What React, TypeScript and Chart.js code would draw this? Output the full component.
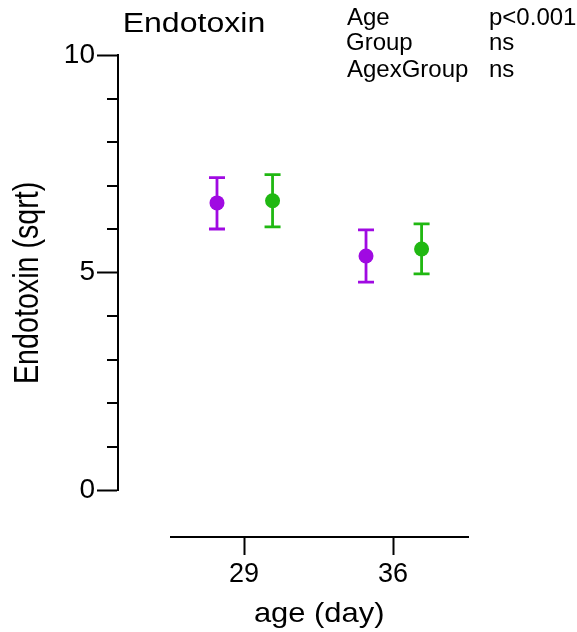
import React, { useEffect, useRef } from 'react';
import { Chart, registerables } from 'chart.js';

Chart.register(...registerables);

// ---- data ----
const ages = [29, 36];
const purpleMeans = [6.6, 5.38];
const purpleLower = [6.0, 4.78];
const purpleUpper = [7.18, 5.98];
const greenMeans = [6.65, 5.54];
const greenLower = [6.05, 4.97];
const greenUpper = [7.25, 6.12];
const yMajorTicks = [0, 5, 10];
const yMinorTicks = [1, 2, 3, 4, 6, 7, 8, 9];
const xTicks = [29, 36];
const statLabels = ['Age', 'Group', 'AgexGroup'];
const statValues = ['p<0.001', 'ns', 'ns'];
const chartTitle = 'Endotoxin';
const yTitle = 'Endotoxin (sqrt)';
const xTitle = 'age (day)';

// ---- style ----
const FONT = '"Liberation Sans", Arial, Helvetica, sans-serif';
const PURPLE = '#a00ae2';
const GREEN = '#20b812';
const groupShift = [-1.27, 1.34]; // dodge in days

function drawInk(
  ctx: CanvasRenderingContext2D,
  text: string,
  size: number,
  x: number,
  baseline: number,
  anchor: 'left' | 'center',
  width?: number
) {
  ctx.save();
  ctx.font = `${size}px ${FONT}`;
  ctx.textAlign = 'left';
  ctx.textBaseline = 'alphabetic';
  ctx.fillStyle = '#000';
  const m = ctx.measureText(text);
  const inkL = -m.actualBoundingBoxLeft;
  const inkR = m.actualBoundingBoxRight;
  const sx = width ? width / (inkR - inkL) : 1;
  ctx.translate(x, baseline);
  ctx.scale(sx, 1);
  const dx = anchor === 'left' ? -inkL : -(inkL + inkR) / 2;
  ctx.fillText(text, dx, 0);
  ctx.restore();
}

const errorBarPlugin = {
  id: 'errorBars',
  beforeDatasetsDraw(chart: any) {
    const { ctx, scales } = chart;
    const xs = scales.x;
    const ys = scales.y;
    chart.data.datasets.forEach((ds: any) => {
      ds.data.forEach((pt: any, i: number) => {
        const px = xs.getPixelForValue(pt.x);
        const top = ys.getPixelForValue(ds.errHigh[i]);
        const bot = ys.getPixelForValue(ds.errLow[i]);
        ctx.save();
        ctx.strokeStyle = ds.backgroundColor;
        ctx.lineWidth = 2.8;
        ctx.beginPath();
        ctx.moveTo(px, top);
        ctx.lineTo(px, bot);
        ctx.moveTo(px - 8, top);
        ctx.lineTo(px + 8, top);
        ctx.moveTo(px - 8, bot);
        ctx.lineTo(px + 8, bot);
        ctx.stroke();
        ctx.restore();
      });
    });
  },
};

const decorPlugin = {
  id: 'decor',
  afterDraw(chart: any) {
    const { ctx, scales } = chart;
    const ys = scales.y;
    // minor ticks
    ctx.save();
    ctx.strokeStyle = '#000';
    ctx.lineWidth = 2;
    const bx = Math.round(ys.right);
    yMinorTicks.forEach((v) => {
      const py = Math.round(ys.getPixelForValue(v));
      ctx.beginPath();
      ctx.moveTo(bx - 11, py);
      ctx.lineTo(bx, py);
      ctx.stroke();
    });
    ctx.restore();

    // title
    drawInk(ctx, chartTitle, 27, 125, 32, 'left', 139);
    // stats
    const baselines = [25, 50, 77];
    statLabels.forEach((s, i) => {
      drawInk(ctx, s, 24, 347, baselines[i], 'left');
      drawInk(ctx, statValues[i], 24, 490, baselines[i], 'left');
    });
    // x title
    drawInk(ctx, xTitle, 28, 319, 622, 'center', 128);
    // y title (rotated)
    ctx.save();
    ctx.font = `28px ${FONT}`;
    ctx.textAlign = 'left';
    ctx.textBaseline = 'alphabetic';
    ctx.fillStyle = '#000';
    const m = ctx.measureText(yTitle);
    const inkL = -m.actualBoundingBoxLeft;
    const inkR = m.actualBoundingBoxRight;
    const asc = m.actualBoundingBoxAscent;
    const desc = m.actualBoundingBoxDescent;
    const sx = 199 / (inkR - inkL);
    const sy = 32 / (asc + desc);
    ctx.translate(29, 282.5);
    ctx.rotate(-Math.PI / 2);
    ctx.scale(sx, sy);
    ctx.fillText(yTitle, -(inkL + inkR) / 2, -(desc - asc) / 2);
    ctx.restore();
  },
};

export default function App() {
  const ref = useRef<HTMLCanvasElement | null>(null);

  useEffect(() => {
    document.body.style.margin = '0';
    const canvas = ref.current;
    if (!canvas) return;

    const mk = (means: number[], lo: number[], hi: number[], g: number, color: string, label: string) => ({
      type: 'scatter' as const,
      label,
      data: ages.map((a, i) => ({ x: a + groupShift[g], y: means[i] })),
      errLow: lo,
      errHigh: hi,
      backgroundColor: color,
      borderColor: color,
      pointRadius: 7.5,
      pointBorderWidth: 0,
      showLine: false,
      xAxisID: 'x',
      yAxisID: 'y',
    });

    const chart = new Chart(canvas, {
      type: 'scatter',
      data: {
        datasets: [
          mk(purpleMeans, purpleLower, purpleUpper, 0, PURPLE, 'Group 1'),
          mk(greenMeans, greenLower, greenUpper, 1, GREEN, 'Group 2'),
        ] as any,
      },
      options: {
        responsive: false,
        animation: false,
        events: [],
        devicePixelRatio: 1,
        layout: { padding: { left: 0, right: 109, top: 55, bottom: 0 } },
        plugins: {
          legend: { display: false },
          tooltip: { enabled: false },
          title: { display: false },
        },
        scales: {
          x: {
            type: 'linear',
            axis: 'x',
            position: 'bottom',
            weight: 1,
            min: 25.57,
            max: 39.52,
            afterBuildTicks: (s: any) => {
              s.ticks = xTicks.map((v) => ({ value: v }));
            },
            afterFit: (s: any) => {
              s.height = 95;
            },
            grid: {
              display: true,
              drawOnChartArea: false,
              drawTicks: true,
              tickLength: 18,
              tickWidth: 2,
              tickColor: '#000',
              color: '#000',
            },
            border: { display: true, color: '#000', width: 2 },
            ticks: {
              color: '#000',
              font: { family: FONT, size: 27 },
              padding: 3,
              autoSkip: false,
              maxRotation: 0,
              callback: (v: any) => String(v),
            },
          },
          xSpacer: {
            type: 'linear',
            axis: 'x',
            position: 'bottom',
            weight: 0,
            grid: { display: false },
            border: { display: false },
            ticks: { display: false },
            afterFit: (s: any) => {
              s.height = 47;
            },
          },
          y: {
            type: 'linear',
            axis: 'y',
            position: 'left',
            weight: 1,
            min: 0,
            max: 10,
            afterBuildTicks: (s: any) => {
              s.ticks = yMajorTicks.map((v) => ({ value: v }));
            },
            afterFit: (s: any) => {
              s.width = 118;
            },
            grid: {
              display: true,
              drawOnChartArea: false,
              drawTicks: true,
              tickLength: 21,
              tickWidth: 2,
              tickColor: '#000',
              color: '#000',
            },
            border: { display: true, color: '#000', width: 2 },
            ticks: {
              color: '#000',
              font: { family: FONT, size: 28 },
              padding: 2,
              autoSkip: false,
              callback: (v: any) => String(v),
            },
          },
          ySpacer: {
            type: 'linear',
            axis: 'y',
            position: 'left',
            weight: 0,
            grid: { display: false },
            border: { display: false },
            ticks: { display: false },
            afterFit: (s: any) => {
              s.width = 53;
            },
          },
        } as any,
      },
      plugins: [errorBarPlugin, decorPlugin],
    });

    return () => {
      chart.destroy();
    };
  }, []);

  return <canvas ref={ref} width={577} height={632} style={{ display: 'block' }} />;
}
